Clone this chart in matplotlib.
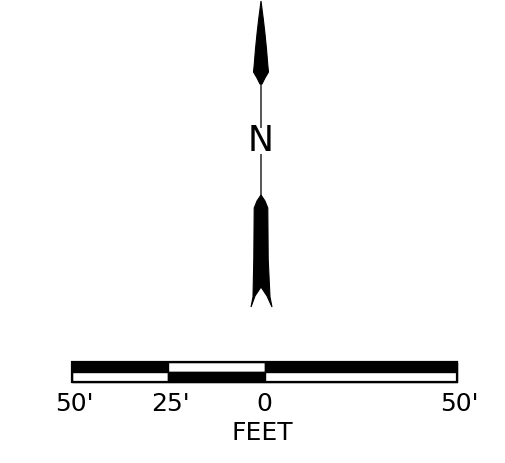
import matplotlib
matplotlib.use('Agg')
import matplotlib.pyplot as plt
from matplotlib.patches import Polygon, Rectangle

# scale bar labels (feet) and their positions along the bar
scale_labels = ["50'", "25'", "0", "50'"]
scale_values = [-50, -25, 0, 50]
# segments of the bar: (start, end, top colour, bottom colour)
seg_start = [-50, -25, 0]
seg_end = [-25, 0, 50]
seg_top = ['black', 'white', 'black']
seg_bot = ['white', 'black', 'white']

fig = plt.figure(figsize=(5.05, 4.64), dpi=100)
ax = fig.add_axes([0, 0, 1, 1])
ax.set_xlim(0, 505)
ax.set_ylim(464, 0)
ax.axis('off')

# north arrow
cx = 261
ax.plot([cx, cx], [84, 128], color='#555555', lw=1.4, zorder=1)
ax.plot([cx, cx], [156, 198], color='#555555', lw=1.4, zorder=1)
upper = [(cx, 2), (cx + 1, 10), (cx + 2.3, 20), (cx + 3.8, 33), (cx + 5.5, 50),
         (cx + 6.8, 66), (cx + 7.5, 73), (cx + 4, 79), (cx + 1, 85),
         (cx - 1, 85), (cx - 4, 79), (cx - 7.5, 73), (cx - 6.8, 66),
         (cx - 5.5, 50), (cx - 3.8, 33), (cx - 2.3, 20), (cx - 1, 10)]
ax.add_patch(Polygon(upper, closed=True, color='black', lw=0.8, zorder=2))
lower = [(cx, 196), (cx + 4, 202), (cx + 6.8, 209), (cx + 7.2, 260), (cx + 9, 298),
         (cx + 11, 308), (cx + 6, 297), (cx, 288), (cx - 6, 297), (cx - 10, 308),
         (cx - 8, 298), (cx - 7.2, 260), (cx - 6.8, 209), (cx - 4, 202)]
ax.add_patch(Polygon(lower, closed=True, color='black', lw=0.8, zorder=2))
ax.text(cx, 141, 'N', ha='center', va='center', fontsize=25,
        family='DejaVu Sans', color='black')

# scale bar: x pixel = x0 + value * k
x0 = 264.5
k = (457 - 72) / 100.0
top, mid, bot = 363, 373, 383
for s, e, ct, cb in zip(seg_start, seg_end, seg_top, seg_bot):
    ax.add_patch(Rectangle((x0 + s * k, top), (e - s) * k, mid - top,
                           facecolor=ct, edgecolor='black', lw=1))
    ax.add_patch(Rectangle((x0 + s * k, mid), (e - s) * k, bot - mid,
                           facecolor=cb, edgecolor='black', lw=1))
ax.add_patch(Rectangle((x0 - 50 * k, top), 100 * k, bot - top,
                       facecolor='none', edgecolor='black', lw=1.6))

for v, lab in zip(scale_values, scale_labels):
    ax.text(x0 + v * k + (2 if "'" in lab else 0), 404, lab, ha='center', va='center',
            fontsize=18, family='DejaVu Sans')
ax.text(262, 433, 'FEET', ha='center', va='center', fontsize=18,
        family='DejaVu Sans')

fig.savefig('out.png', dpi=100)
